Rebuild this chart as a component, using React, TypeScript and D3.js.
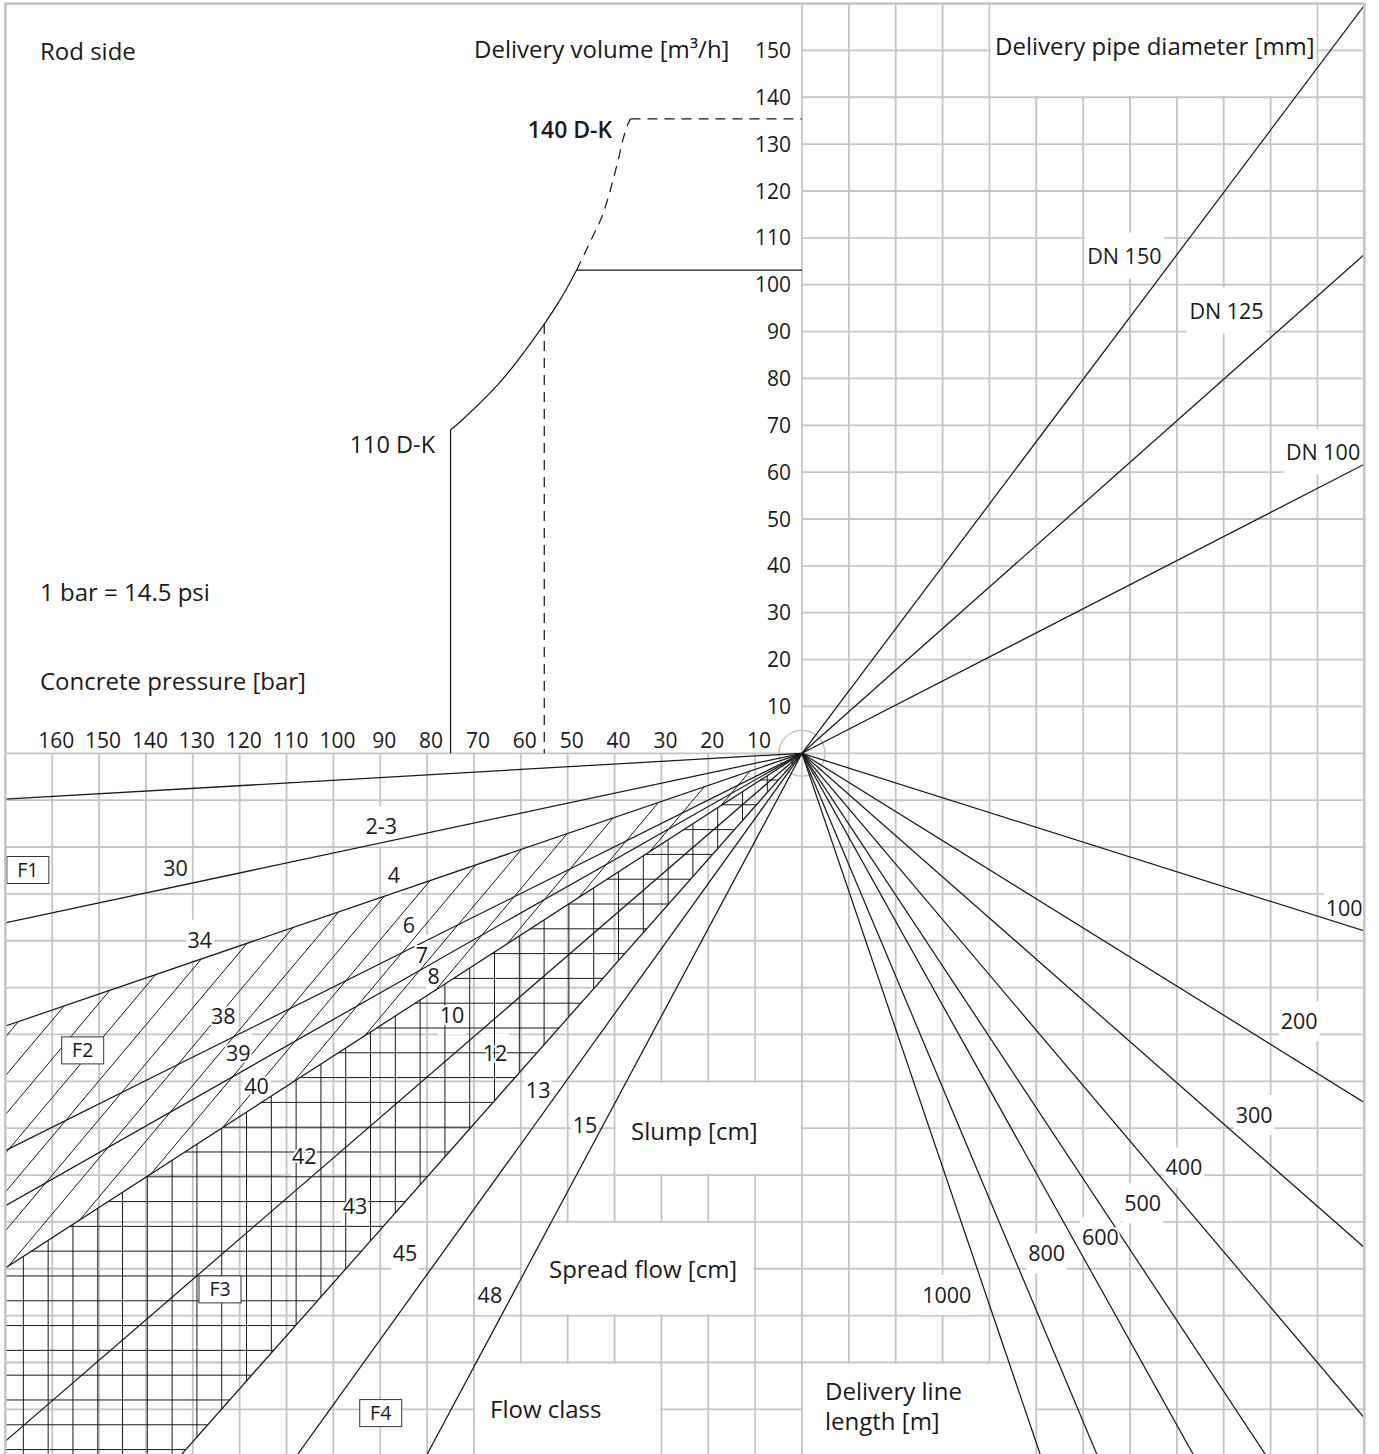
import React from 'react';
import * as d3 from 'd3';

// ---------------- data ----------------
const pressureTicks = [10, 20, 30, 40, 50, 60, 70, 80, 90, 100, 110, 120, 130, 140, 150, 160];
const volumeTicks = [10, 20, 30, 40, 50, 60, 70, 80, 90, 100, 110, 120, 130, 140, 150];

const pipeLabels = ['DN 150', 'DN 125', 'DN 100'];
const pipeSlopes = [1.33, 0.887, 0.514];

const lengthLabels = ['100', '200', '300', '400', '500', '600', '800', '1000'];
const lengthSlopes = [0.316, 0.621, 0.879, 1.182, 1.513, 1.792, 2.377, 2.943];

const slumpLabels = ['', '2-3', '4', '6', '7', '8', '10', '12', '13', '15'];
const spreadLabels = ['', '30', '34', '38', '39', '40', '42', '43', '45', '48'];
const consistencySlopes = [0.0576, 0.2128, 0.3424, 0.4987, 0.568, 0.646, 0.8635, 1.13, 1.39, 1.87];

const flowClasses = ['F1', 'F2', 'F3', 'F4'];

const pump110Pressure = [75, 73, 64, 55, 51.6, 48.1];
const pump110Volume = [69, 70.7, 79.7, 91.6, 96.8, 103.1];
const pump140Pressure = [48.1, 44.5, 42.7, 41.3, 40.3, 39.2, 38.2, 37.1, 36.6];
const pump140Volume = [103.1, 110.6, 114.5, 118.8, 122.4, 126.7, 131.0, 134.4, 135.4];
const rodSidePressure = 55;
const rodSideVolume = 91.6;

// ---------------- layout (label anchors in chart units) ----------------
const slumpLabelAt = [null, [-89.8, -15.6], [-87.1, -26.1], [-83.9, -36.7], [-81.1, -43.0], [-78.6, -47.6], [-74.7, -55.8], [-65.5, -64.1], [-56.3, -71.9], [-46.3, -79.4]];
const spreadLabelAt = [null, [-133.7, -24.6], [-128.5, -39.8], [-123.5, -56.2], [-120.3, -64.1], [-116.4, -71.1], [-106.2, -85.9], [-95.4, -96.7], [-84.7, -106.7], [-66.6, -115.6]];
const lengthLabelAt = [[115.7, -33.1], [106.1, -57.2], [96.5, -77.2], [81.5, -88.4], [72.7, -96.0], [63.7, -103.3], [52.2, -106.7], [30.9, -115.6]];
const pipeLabelAt = [[68.8, 106.0], [90.6, 94.3], [111.2, 64.2]];
const flowClassAt = [[-165.2, -24.9], [-153.5, -63.4], [-124.2, -114.4], [-89.9, -140.8]];

const titleBoxes = [
  { u0: 40, u1: 110, v0: 140, v1: 160 },
  { u0: -40, u1: 0, v0: -90, v1: -70 },
  { u0: -60, u1: -10, v0: -120, v1: -100 },
  { u0: -70, u1: -30, v0: -150, v1: -130 },
  { u0: 0, u1: 50, v0: -150, v1: -130 },
];

export default function App() {
  const W = 1379, H = 1454;
  const x = d3.scaleLinear().domain([-170, 120]).range([5.38, 1364.3]);
  const y = d3.scaleLinear().domain([160, -150]).range([3.54, 1456.2]);
  const ox = x(0), oy = y(0);
  const left = x(-170), right = x(120), top = y(160), bottom = y(-150);

  const grid = '#c4c4c4';
  const ink = '#1a1a1a';
  const font = "'Open Sans', 'Noto Sans', sans-serif";

  const line = d3.line<number[]>().x(d => x(d[0])).y(d => y(d[1]));
  const smooth = d3.line<number[]>().x(d => x(d[0])).y(d => y(d[1])).curve(d3.curveCatmullRom.alpha(0.5));

  const far = 1000;
  const ray = (du: number, dv: number) => line([[0, 0], [du * far, dv * far]]) as string;

  const gridU = d3.range(-160, 120, 10);
  const gridV = d3.range(-140, 160, 10);

  // hatch (F2 region)
  const hatchSlope = 1.19, hatchStep = 8.27, hatchPhase = -9.41;
  const hatchLines = d3.range(-2, 40).map(n => {
    const C = hatchPhase - n * hatchStep;
    return [[-400, -400 * hatchSlope - C], [60, 60 * hatchSlope - C]];
  });
  const xhStep = 5.292, xhU0 = -7.405, xhV0 = -5.70;
  const xhK = d3.range(-1, 40);

  const poly = (s1: number, s2: number) =>
    [[0, 0], [-far, -far * s1], [-far, -far * s2]].map(d => `${x(d[0])},${y(d[1])}`).join(' ');

  const labelW = (t: string, fs: number) => t.length * 0.6 * fs;

  const lineLabels: { t: string; at: number[] }[] = [];
  slumpLabels.forEach((t, i) => { if (t) lineLabels.push({ t, at: slumpLabelAt[i] as number[] }); });
  spreadLabels.forEach((t, i) => { if (t) lineLabels.push({ t, at: spreadLabelAt[i] as number[] }); });
  lengthLabels.forEach((t, i) => lineLabels.push({ t, at: lengthLabelAt[i] }));

  const fsLbl = 21.5;
  const fsTick = 21;
  const fsTitle = 24;

  const titles = [
    { t: 'Rod side', x: 40, y: 60 },
    { t: 'Delivery volume [m³/h]', x: 474, y: 58 },
    { t: 'Delivery pipe diameter [mm]', x: 995, y: 55 },
    { t: '1 bar = 14.5 psi', x: 40, y: 601 },
    { t: 'Concrete pressure [bar]', x: 40, y: 690 },
    { t: 'Slump [cm]', x: 631, y: 1140 },
    { t: 'Spread flow [cm]', x: 549, y: 1278 },
    { t: 'Flow class', x: 490, y: 1418 },
    { t: 'Delivery line', x: 825, y: 1400 },
    { t: 'length [m]', x: 825, y: 1430 },
  ];

  return (
    <svg width={W} height={H} style={{ position: 'absolute', left: 0, top: 0, background: '#fff' }}
      fontFamily={font}>
      <defs>
        <clipPath id="chartClip">
          <rect x={left} y={top} width={right - left} height={bottom - top} />
        </clipPath>
        <clipPath id="hatchClip">
          <polygon points={poly(consistencySlopes[2], consistencySlopes[5])} />
        </clipPath>
        <clipPath id="crossClip">
          <polygon points={poly(consistencySlopes[5], consistencySlopes[7])} />
        </clipPath>
      </defs>
      <rect x={0} y={0} width={W} height={H} fill="#fff" />

      {/* grid */}
      <g stroke={grid} strokeWidth={1.8}>
        {gridU.map(u => (
          <line key={'gu' + u} x1={x(u)} x2={x(u)} y1={u < 0 ? oy : top} y2={bottom} />
        ))}
        {gridV.map(v => (
          <line key={'gv' + v} x1={v > 0 ? ox : left} x2={right} y1={y(v)} y2={y(v)} />
        ))}
      </g>

      {/* title boxes */}
      <g fill="#fff">
        {titleBoxes.map((b, i) => (
          <rect key={'tb' + i} x={x(b.u0) + 1.2} y={y(b.v1) + 1.2}
            width={x(b.u1) - x(b.u0) - 2.4} height={y(b.v0) - y(b.v1) - 2.4} />
        ))}
      </g>

      {/* label backgrounds */}
      <g fill="#fff">
        {lineLabels.map((l, i) => {
          const w = labelW(l.t, fsLbl) + 2;
          return <rect key={'lb' + i} x={x(l.at[0]) - w / 2} y={y(l.at[1]) - 20} width={w} height={40} />;
        })}
        {pipeLabels.map((t, i) => {
          const w = labelW(t, fsLbl) + 2;
          return <rect key={'pb' + i} x={x(pipeLabelAt[i][0]) - w / 2} y={y(pipeLabelAt[i][1]) - 24} width={w} height={46} />;
        })}
      </g>

      <circle cx={ox} cy={oy} r={23} fill="none" stroke={grid} strokeWidth={1.5} />

      <g clipPath="url(#chartClip)">
        {/* hatch F2 */}
        <g clipPath="url(#hatchClip)" stroke={ink} strokeWidth={1}>
          {hatchLines.map((h, i) => <path key={'h' + i} d={line(h) as string} />)}
        </g>
        {/* crosshatch F3 */}
        <g clipPath="url(#crossClip)" stroke={ink} strokeWidth={1}>
          {xhK.map(k => {
            const u = xhU0 - k * xhStep;
            return <line key={'xv' + k} x1={x(u)} x2={x(u)} y1={y(5)} y2={y(-200)} />;
          })}
          {xhK.map(k => {
            const v = xhV0 - k * xhStep;
            return <line key={'xh' + k} x1={x(5)} x2={x(-200)} y1={y(v)} y2={y(v)} />;
          })}
        </g>

        {/* fans */}
        <g stroke={ink} strokeWidth={1.25} fill="none">
          {consistencySlopes.map((s, i) => <path key={'c' + i} d={ray(-1, -s)} />)}
          {pipeSlopes.map((s, i) => <path key={'p' + i} d={ray(1, s)} />)}
          {lengthSlopes.map((s, i) => <path key={'l' + i} d={ray(1, -s)} />)}
        </g>

        {/* pump curves */}
        <g stroke={ink} strokeWidth={1.25} fill="none">
          <path d={line([[-pump110Pressure[0], 0], [-pump110Pressure[0], pump110Volume[0]]]) as string} />
          <path d={smooth(pump110Pressure.map((p, i) => [-p, pump110Volume[i]])) as string} />
          <path d={line([[-pump110Pressure[pump110Pressure.length - 1], pump110Volume[pump110Volume.length - 1]], [0, pump110Volume[pump110Volume.length - 1]]]) as string} />
          <g strokeDasharray="10 7">
            <path d={smooth(pump140Pressure.map((p, i) => [-p, pump140Volume[i]])) as string} />
            <path d={line([[-pump140Pressure[pump140Pressure.length - 1], pump140Volume[pump140Volume.length - 1]], [0, pump140Volume[pump140Volume.length - 1]]]) as string} />
            <path d={line([[-rodSidePressure, rodSideVolume], [-rodSidePressure, 0]]) as string} />
          </g>
        </g>
      </g>

      {/* flow class boxes */}
      {flowClasses.map((f, i) => {
        const cx = x(flowClassAt[i][0]), cy = y(flowClassAt[i][1]);
        return (
          <g key={f}>
            <rect x={cx - 21} y={cy - 13.5} width={42} height={27} fill="#fff" stroke="#333" strokeWidth={1} />
            <text x={cx} y={cy} dy="0.36em" textAnchor="middle" fontSize={19.5} fill={ink}>{f}</text>
          </g>
        );
      })}

      {/* axis ticks */}
      <g fill={ink} fontSize={fsTick}>
        {pressureTicks.map(p => (
          <text key={'pt' + p} x={x(-p) + 4} y={oy - 5} textAnchor="middle">{p}</text>
        ))}
        {volumeTicks.map(q => (
          <text key={'vt' + q} x={791} y={y(q)} dy="0.36em" textAnchor="end">{q}</text>
        ))}
      </g>

      {/* line labels */}
      <g fill={ink} fontSize={fsLbl} textAnchor="middle">
        {lineLabels.map((l, i) => (
          <text key={'ll' + i} x={x(l.at[0])} y={y(l.at[1])} dy="0.36em"
            stroke="#fff" strokeWidth={4} paintOrder="stroke">{l.t}</text>
        ))}
        {pipeLabels.map((t, i) => (
          <text key={'pl' + i} x={x(pipeLabelAt[i][0])} y={y(pipeLabelAt[i][1])} dy="0.36em">{t}</text>
        ))}
      </g>

      {/* pump labels */}
      <text x={x(-78.3)} y={y(64.0)} textAnchor="end" fontSize={23.5} fill={ink}>110 D-K</text>
      <text x={x(-40.5)} y={y(131.4)} textAnchor="end" fontSize={23} fontWeight={600} fill={ink}>140 D-K</text>

      {/* titles */}
      <g fill={ink} fontSize={fsTitle}>
        {titles.map((t, i) => <text key={'t' + i} x={t.x} y={t.y}>{t.t}</text>)}
      </g>

      <rect x={left} y={top} width={right - left} height={bottom - top} fill="none" stroke={grid} strokeWidth={2.5} />
    </svg>
  );
}
